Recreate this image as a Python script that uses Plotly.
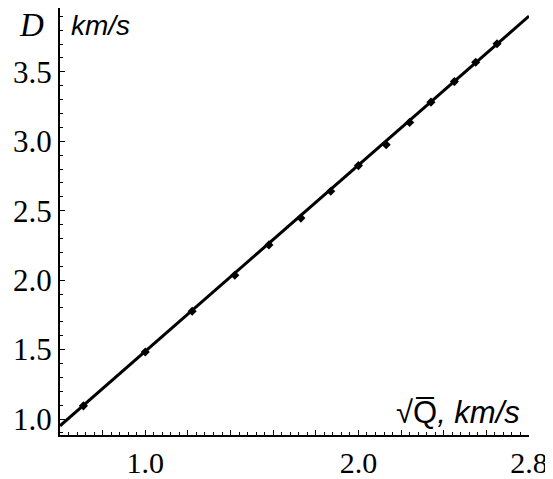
import plotly.graph_objects as go

# data
sqrt_q = [0.71, 1.00, 1.22, 1.42, 1.58, 1.73, 1.87, 2.00, 2.13, 2.24, 2.34, 2.45, 2.55, 2.65]
d_vals = [1.095, 1.483, 1.776, 2.035, 2.254, 2.447, 2.640, 2.825, 2.976, 3.136, 3.282, 3.430, 3.569, 3.703]

fit_x = [0.6, 2.8]
fit_d = [0.951, 3.902]

x_tick_vals = [0.6, 0.8, 1.0, 1.2, 1.4, 1.6, 1.8, 2.0, 2.2, 2.4, 2.6, 2.8]
x_tick_text = ["", "", "1.0", "", "", "", "", "2.0", "", "", "", "2.8"]
y_tick_vals = [1.0, 1.5, 2.0, 2.5, 3.0, 3.5]
y_tick_text = ["1.0", "1.5", "2.0", "2.5", "3.0", "3.5"]

fig = go.Figure()
fig.add_trace(go.Scatter(x=fit_x, y=fit_d, mode="lines",
                         line=dict(color="black", width=3), showlegend=False))
fig.add_trace(go.Scatter(x=sqrt_q, y=d_vals, mode="markers",
                         marker=dict(symbol="diamond", size=7, color="black",
                                     line=dict(width=0)),
                         showlegend=False))

serif = "Liberation Serif, Times New Roman, serif"
sans = "Liberation Sans, Arial, sans-serif"

# the page body adds an 8px offset; size and margins compensate for it
fig.update_layout(
    width=545, height=471,
    margin=dict(l=52, r=24, t=0, b=36),
    paper_bgcolor="white", plot_bgcolor="white",
    xaxis=dict(range=[0.6, 2.8], showgrid=False, zeroline=False,
               showline=True, linecolor="black", linewidth=2,
               tickmode="array", tickvals=x_tick_vals, ticktext=x_tick_text,
               ticks="inside", ticklen=5, tickwidth=1, tickcolor="black",
               ticklabeloverflow="allow",
               minor=dict(tick0=0.6, dtick=0.04, ticks="inside", ticklen=3,
                          tickcolor="black", tickwidth=1),
               tickfont=dict(family=serif, size=30, color="black")),
    yaxis=dict(range=[0.885, 3.96], showgrid=False, zeroline=False,
               showline=True, linecolor="black", linewidth=2,
               tickmode="array", tickvals=y_tick_vals, ticktext=y_tick_text,
               ticks="inside", ticklen=5, tickwidth=1, tickcolor="black",
               minor=dict(tick0=0.9, dtick=0.1, ticks="inside", ticklen=3,
                          tickcolor="black", tickwidth=1),
               tickfont=dict(family=serif, size=31, color="black")),
    annotations=[
        dict(text="<i>D</i>", xref="paper", yref="paper", x=-0.03, y=0.96,
             xanchor="right", yanchor="middle", showarrow=False,
             font=dict(family=serif, size=33, color="black")),
        dict(text="<i>km/s</i>", xref="paper", yref="paper", x=0.02, y=0.96,
             xanchor="left", yanchor="middle", showarrow=False,
             font=dict(family=sans, size=28, color="black")),
        dict(text="√Q\u0305<i>, km/s</i>", xref="paper", yref="paper", x=0.985, y=0.053,
             xanchor="right", yanchor="middle", showarrow=False,
             font=dict(family=sans, size=31, color="black")),
    ],
)

fig.write_html("out.html")
